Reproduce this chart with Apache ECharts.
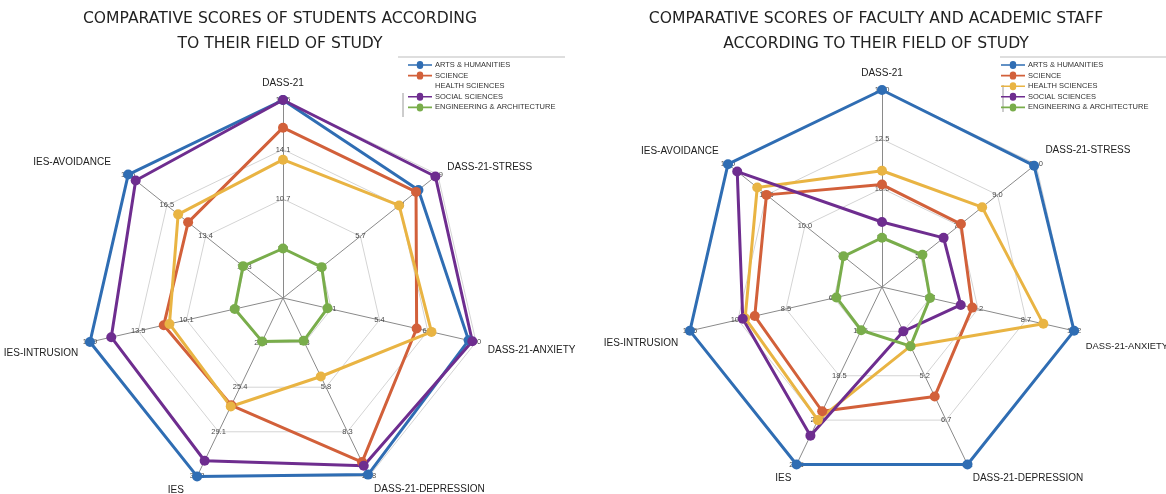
<!DOCTYPE html>
<html>
<head>
<meta charset="utf-8">
<script src="https://cdn.jsdelivr.net/npm/echarts@6/dist/echarts.min.js"></script>
<style>
html,body{margin:0;padding:0;background:#fff;}
#chart{width:1166px;height:494px;}
</style>
</head>
<body>
<div id="chart"></div>
<script>
// Indicator order (ECharts radar runs counter-clockwise from the top)
const indicators = ["DASS-21","IES-AVOIDANCE","IES-INTRUSION","IES","DASS-21-DEPRESSION","DASS-21-ANXIETY","DASS-21-STRESS"];
const seriesNames = ["ARTS & HUMANITIES","SCIENCE","HEALTH SCIENCES","SOCIAL SCIENCES","ENGINEERING & ARCHITECTURE"];

// Students chart: axis scales
const studentsMin = [3.9, 7.2, 3.3, 18.0, 0.8, 2.8, 2.5];
const studentsMax = [17.5, 19.6, 16.9, 32.8, 10.8, 8.0, 8.9];
// Students chart: values
const studentsArts = [17.5, 19.6, 16.9, 32.8, 10.7, 7.8, 8.1];
const studentsScience = [15.6, 14.8, 11.7, 26.9, 10.0, 6.4, 8.0];
const studentsHealth = [13.4, 15.6, 11.3, 27.0, 5.2, 6.8, 7.3];
const studentsSocial = [17.5, 19.0, 15.4, 31.5, 10.2, 7.9, 8.8];
const studentsEngineering = [7.3, 10.4, 6.7, 21.6, 3.2, 4.0, 4.1];

// Faculty chart: axis scales
const facultyMin = [5.0, 5.0, 4.5, 10.5, 2.2, 1.2, 3.0];
const facultyMax = [15.0, 15.0, 12.5, 26.5, 8.2, 11.2, 11.0];
// Faculty chart: values
const facultyArts = [15.0, 15.0, 12.5, 26.5, 8.2, 11.2, 10.9];
const facultyScience = [10.2, 12.5, 9.8, 21.7, 5.9, 5.9, 7.1];
const facultyHealth = [10.9, 13.1, 10.2, 22.5, 4.2, 9.6, 8.2];
const facultySocial = [8.3, 14.4, 10.3, 23.9, 3.7, 5.3, 6.2];
const facultyEngineering = [7.5, 7.5, 6.4, 14.4, 4.2, 3.7, 5.1];

const colors = ["#2f6db3", "#d2603a", "#e9b443", "#6e2d8f", "#79ad4b"];

const chart = echarts.init(document.getElementById('chart'), null, {renderer: 'canvas'});

const nameFont = {color: '#222', fontSize: 10, fontFamily: 'Liberation Sans'};

// name label padding per indicator [top, right, bottom, left]
const studentsNamePad = [[0,0,0,0],[0,8,10,0],[18,0,0,0],[6,8,0,0],[4,0,0,0],[12,0,0,0],[0,0,0,0]];
const facultyNamePad = [[0,0,0,0],[0,0,10,0],[20,0,0,0],[6,0,0,0],[6,0,0,0],[26,0,0,0],[0,0,12,0]];
const studentsNameSize = [10, 10, 10, 10, 10, 10, 10];
const facultyNameSize = [10, 10, 10, 10, 10, 9.4, 10];

function makeRadar(center, radius, mins, maxs, pads, sizes) {
  const rich = {};
  pads.forEach((p, i) => { rich['n' + i] = Object.assign({}, nameFont, {padding: p, fontSize: sizes[i]}); });
  return {
    center: center,
    radius: radius,
    startAngle: 90,
    splitNumber: 4,
    shape: 'polygon',
    indicator: indicators.map((n, i) => ({name: n, min: mins[i], max: maxs[i]})),
    axisName: Object.assign({
      rich: rich,
      formatter: function (name) { return '{n' + indicators.indexOf(name) + '|' + name + '}'; }
    }, nameFont),
    nameGap: 12,
    axisLine: {lineStyle: {color: '#8a8a8a', width: 1}},
    splitLine: {lineStyle: {color: '#d4d4d4', width: 1}},
    splitArea: {show: false},
    axisTick: {show: false},
    axisLabel: {
      show: true, showMinLabel: false, margin: 0,
      align: 'center', verticalAlign: 'middle',
      fontSize: 7.5, color: '#4a4a4a', fontFamily: 'Liberation Sans',
      formatter: v => Number(v).toFixed(1)
    }
  };
}

const legendIcon = 'path://M0,4 L11,4 A4,4 0 0,1 19,4 L30,4 L30,6 L19,6 A4,4 0 0,1 11,6 L0,6 Z';

function makeLegend(left, hideHealth) {
  return {
    orient: 'vertical', left: left, top: 61, padding: 0,
    itemWidth: 26, itemHeight: 8, itemGap: 2.6,
    icon: legendIcon,
    textStyle: {fontSize: 7.5, color: '#333', fontFamily: 'Liberation Sans', padding: [0,0,0,-3]},
    data: seriesNames.map(n => (hideHealth && n === 'HEALTH SCIENCES')
      ? {name: n, itemStyle: {opacity: 0}}
      : {name: n})
  };
}

const studentsData = [studentsArts, studentsScience, studentsHealth, studentsSocial, studentsEngineering];
const facultyData = [facultyArts, facultyScience, facultyHealth, facultySocial, facultyEngineering];

function makeSeries(radarIndex, dataSets) {
  return seriesNames.map((n, i) => ({
    type: 'radar', name: n, radarIndex: radarIndex,
    symbol: 'circle', symbolSize: 10,
    lineStyle: {width: 3, color: colors[i]},
    itemStyle: {color: colors[i]},
    data: [{name: n, value: dataSets[i]}]
  }));
}

const titleStyle = {fontFamily: 'DejaVu Sans', fontSize: 15.6, fontWeight: 'normal', color: '#222', lineHeight: 25};

chart.setOption({
  animation: false,
  color: colors,
  title: [
    {text: 'COMPARATIVE SCORES OF STUDENTS ACCORDING\nTO THEIR FIELD OF STUDY', left: 280, top: 6, padding: 0, textAlign: 'center', textStyle: titleStyle},
    {text: 'COMPARATIVE SCORES OF FACULTY AND ACADEMIC STAFF\nACCORDING TO THEIR FIELD OF STUDY', left: 876, top: 6, padding: 0, textAlign: 'center', textStyle: titleStyle}
  ],
  legend: [makeLegend(408, true), makeLegend(1001, false)],
  radar: [
    makeRadar([283, 298], 198, studentsMin, studentsMax, studentsNamePad, studentsNameSize),
    makeRadar([882, 287], 197, facultyMin, facultyMax, facultyNamePad, facultyNameSize)
  ],
  graphic: [
    {type: 'line', shape: {x1: 398, y1: 57, x2: 565, y2: 57}, style: {stroke: '#bdbdbd', lineWidth: 1}},
    {type: 'line', shape: {x1: 403, y1: 93, x2: 403, y2: 117}, style: {stroke: '#9a9a9a', lineWidth: 1}},
    {type: 'line', shape: {x1: 1000, y1: 57, x2: 1166, y2: 57}, style: {stroke: '#bdbdbd', lineWidth: 1}},
    {type: 'line', shape: {x1: 1003, y1: 85, x2: 1003, y2: 112}, style: {stroke: '#9a9a9a', lineWidth: 1}}
  ],
  series: makeSeries(0, studentsData).concat(makeSeries(1, facultyData))
});
</script>
</body>
</html>
